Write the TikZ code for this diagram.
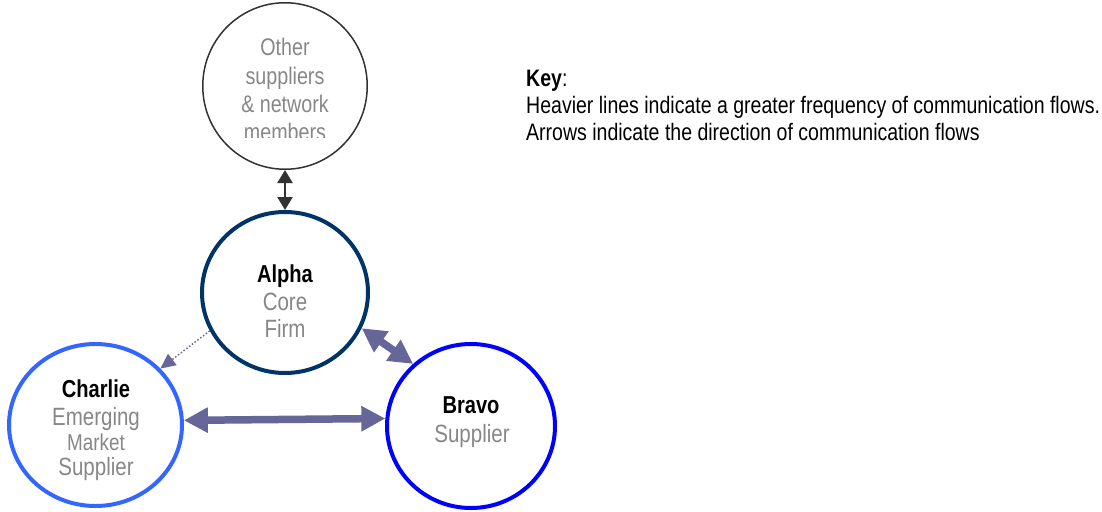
\documentclass[tikz,border=0pt]{standalone}
\usepackage{fontspec}
\setmainfont[FakeStretch=0.82]{Liberation Sans}
\usetikzlibrary{arrows.meta,shapes.geometric}
\definecolor{txtgray}{HTML}{878787}
\definecolor{otherc}{HTML}{333333}
\definecolor{alphac}{HTML}{003366}
\definecolor{charliec}{HTML}{3366FF}
\definecolor{bravoc}{HTML}{0000FF}
\definecolor{flowc}{HTML}{666699}
\begin{document}
\begin{tikzpicture}[x=1pt,y=-1pt,
  ring/.style={ellipse, inner sep=0pt, fill=white},
  lbl/.style={anchor=base, inner sep=0pt},
  headtxt/.style={lbl, font=\fontsize{24.5}{28}\selectfont\bfseries, text=black},
  subtxt/.style={lbl, font=\fontsize{25}{28}\selectfont, text=txtgray},
  othtxt/.style={lbl, font=\fontsize{24}{28}\selectfont, text=txtgray},
  keyline/.style={anchor=base west, inner sep=0pt, font=\fontsize{23.8}{27}\selectfont, text=black},
  bigflow/.style={draw=flowc, line width=7.5pt,
    {Triangle[length=24pt,width=24pt,fill=flowc]}-{Triangle[length=24pt,width=24pt,fill=flowc]}},
  weakflow/.style={draw=flowc, line width=1.5pt, dotted, -{Triangle[length=15pt,width=14pt,fill=flowc]}},
  netflow/.style={draw=otherc, line width=2.5pt,
    {Triangle[length=13pt,width=15pt,fill=otherc]}-{Triangle[length=13pt,width=15pt,fill=otherc]}}
]
\useasboundingbox (0,0) rectangle (1102,511);

% circles
\node[ring, draw=otherc, line width=1.5pt, minimum width=164.5pt, minimum height=166.5pt] (other) at (285,86) {};
\node[ring, draw=alphac, line width=4pt, minimum width=166pt, minimum height=161pt] (alpha) at (285,292.5) {};
\node[ring, draw=charliec, line width=4pt, minimum width=173pt, minimum height=162pt] (charlie) at (95.5,425) {};
\node[ring, draw=bravoc, line width=4pt, minimum width=168pt, minimum height=164pt] (bravo) at (471,426) {};

% texts
\begin{scope}
\clip (200,0) rectangle (370,137.5);
\node[othtxt] (o1) at (285,56) {Other};
\node[othtxt] (o2) at (285,84) {suppliers};
\node[othtxt] (o3) at (285,112) {\& network};
\node[othtxt] (o4) at (285,140) {members};
\end{scope}

\node[headtxt] (a1) at (285,282) {Alpha};
\node[subtxt] (a2) at (285,310) {Core};
\node[subtxt] (a3) at (285,337) {Firm};

\node[headtxt] (c1) at (96,397) {Charlie};
\node[subtxt] (c2) at (96,425) {Emerging};
\node[subtxt, font=\fontsize{23}{26}\selectfont] (c3) at (96,450) {Market};
\node[subtxt] (c4) at (96,475) {Supplier};

\node[headtxt] (b1) at (471,413) {Bravo};
\node[subtxt] (b2) at (472,442) {Supplier};

\node[keyline] (k1) at (526,86) {\textbf{Key}:};
\node[keyline] (k2) at (526,113) {Heavier lines indicate a greater frequency of communication flows.};
\node[keyline] (k3) at (526,140) {Arrows indicate the direction of communication flows};

% connectors
\draw[netflow] (other.south) -- (alpha.north);
\draw[bigflow] (alpha.-25) -- (bravo.133);
\draw[bigflow] (charlie.3) -- (bravo.175);
\draw[weakflow] (alpha.207) -- (charlie.41);
\end{tikzpicture}
\end{document}
